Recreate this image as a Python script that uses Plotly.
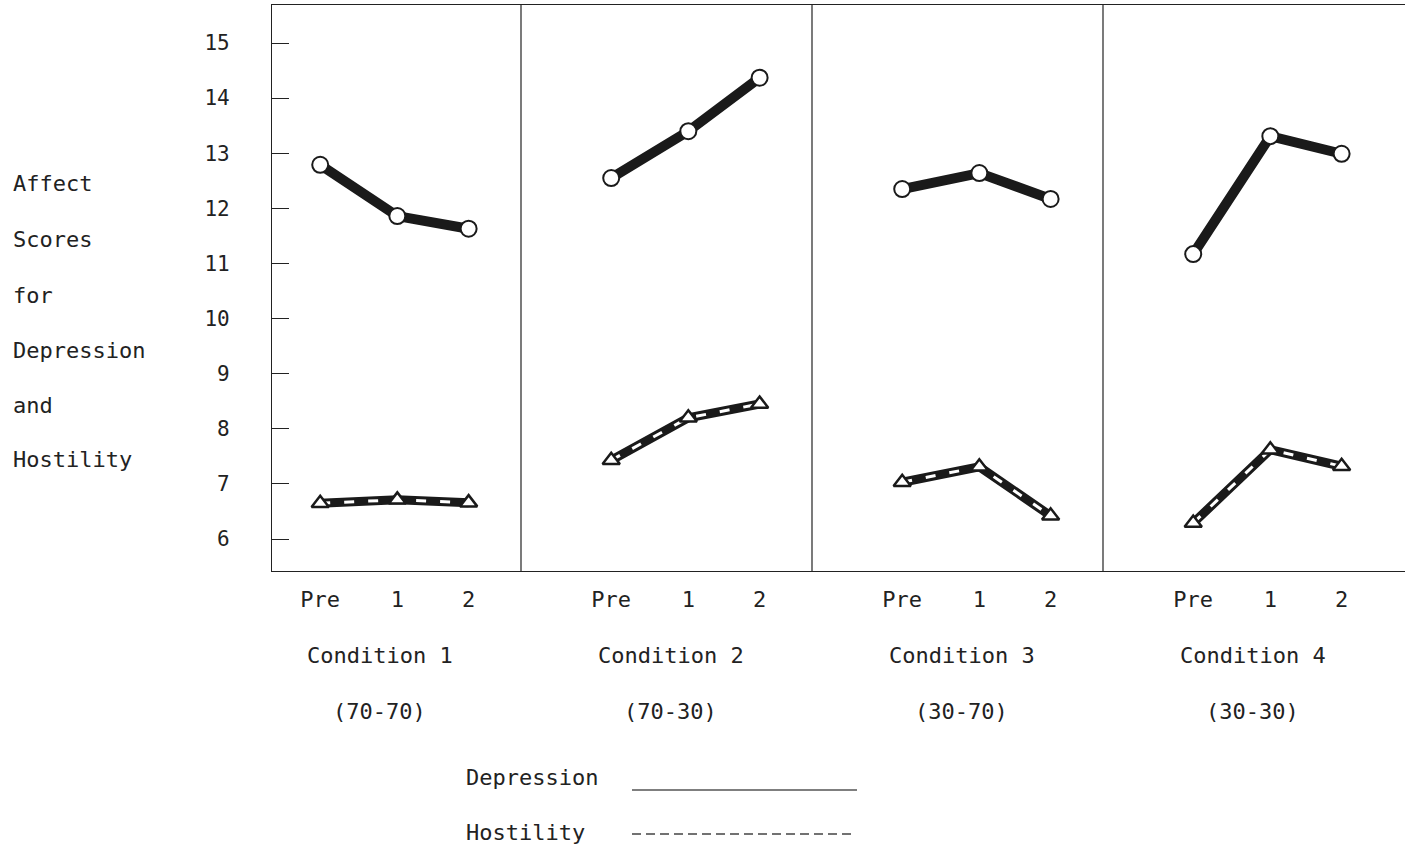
import plotly.graph_objects as go

conditions = ["Condition 1", "Condition 2", "Condition 3", "Condition 4"]
ratios = ["(70-70)", "(70-30)", "(30-70)", "(30-30)"]
times = ["Pre", "1", "2"]
depression = [
    [12.79, 11.86, 11.63],
    [12.55, 13.40, 14.37],
    [12.35, 12.64, 12.17],
    [11.17, 13.31, 12.99],
]
hostility = [
    [6.65, 6.71, 6.66],
    [7.43, 8.20, 8.45],
    [7.03, 7.31, 6.42],
    [6.29, 7.62, 7.32],
]
y_title_lines = ["Affect", "Scores", "for", "Depression", "and", "Hostility"]
y_ticks = list(range(6, 16))

FONT = "DejaVu Sans Mono"
INK = "#222222"
FS = 22
W, H = 1410, 848
L, R, T, B = 272, 5, 5, 277
PW = W - L - R
PH = H - T - B

t_pos = [0.31, 0.575, 0.82]
def xpos(k, t):
    return k + t_pos[t]

fig = go.Figure()
for k in range(len(conditions)):
    xs = [xpos(k, t) for t in range(len(times))]
    fig.add_trace(go.Scatter(x=xs, y=depression[k], mode="lines",
                             line=dict(color="#1a1a1a", width=10), showlegend=False, hoverinfo="skip"))
    fig.add_trace(go.Scatter(x=xs, y=depression[k], mode="markers",
                             marker=dict(symbol="circle", size=16, color="white",
                                         line=dict(color="#1a1a1a", width=2)),
                             showlegend=False))
    fig.add_trace(go.Scatter(x=xs, y=hostility[k], mode="lines",
                             line=dict(color="#1a1a1a", width=9), showlegend=False, hoverinfo="skip"))
    fig.add_trace(go.Scatter(x=xs, y=hostility[k], mode="lines",
                             line=dict(color="white", width=3, dash="10px,14px"),
                             showlegend=False, hoverinfo="skip"))
    fig.add_trace(go.Scatter(x=xs, y=hostility[k], mode="markers",
                             marker=dict(symbol="triangle-up", size=15, color="white",
                                         line=dict(color="#1a1a1a", width=2.5)),
                             showlegend=False))

for k in range(1, len(conditions)):
    fig.add_shape(type="line", xref="x", yref="paper", x0=k, x1=k, y0=0, y1=1,
                  line=dict(color=INK, width=1.2))

tickvals, ticktext = [], []
for k in range(len(conditions)):
    for t, lab in enumerate(times):
        tickvals.append(xpos(k, t))
        ticktext.append(lab)

def py(pix):
    return (H - B - pix) / PH
def px(pix):
    return (pix - L) / PW

for k in range(len(conditions)):
    fig.add_annotation(x=k + 0.515, y=py(655), xref="x", yref="paper", text=conditions[k],
                       showarrow=False, xanchor="center", yanchor="middle",
                       font=dict(family=FONT, size=FS, color=INK))
    fig.add_annotation(x=k + 0.515, y=py(711), xref="x", yref="paper", text=ratios[k],
                       showarrow=False, xanchor="center", yanchor="middle",
                       font=dict(family=FONT, size=FS, color=INK))

title_y = [183, 239, 295, 350, 405, 460]
for line, yy in zip(y_title_lines, title_y):
    fig.add_annotation(x=px(11), y=py(yy), xref="paper", yref="paper", text=line,
                       xanchor="left", yanchor="middle", showarrow=False,
                       font=dict(family=FONT, size=FS, color=INK))

fig.add_annotation(x=px(464), y=py(777), xref="paper", yref="paper", text="Depression",
                   xanchor="left", yanchor="middle", showarrow=False,
                   font=dict(family=FONT, size=FS, color=INK))
fig.add_annotation(x=px(464), y=py(832), xref="paper", yref="paper", text="Hostility",
                   xanchor="left", yanchor="middle", showarrow=False,
                   font=dict(family=FONT, size=FS, color=INK))
fig.add_shape(type="line", xref="paper", yref="paper", x0=px(632), x1=px(857),
              y0=py(790), y1=py(790), line=dict(color="#555555", width=1.5))
fig.add_shape(type="line", xref="paper", yref="paper", x0=px(632), x1=px(852),
              y0=py(834), y1=py(834), line=dict(color="#444444", width=1.5, dash="9px,5px"))

x_lo = (L - 230) / 291
x_hi = (W - R - 230) / 291
y_lo = 6 - (571 - 539) / 55.11
y_hi = 15 + (43 - 5) / 55.11

fig.update_layout(
    width=W, height=H,
    margin=dict(l=L, r=R, t=T, b=B),
    plot_bgcolor="white", paper_bgcolor="white",
    font=dict(family=FONT, size=FS, color=INK),
    showlegend=False,
    xaxis=dict(range=[x_lo, x_hi], tickvals=tickvals, ticktext=ticktext,
               showgrid=False, zeroline=False, showline=True, mirror=True,
               linecolor=INK, linewidth=1.2, ticks="", ticklabelstandoff=8,
               tickfont=dict(family=FONT, size=FS, color=INK)),
    yaxis=dict(range=[y_lo, y_hi], tickvals=y_ticks,
               showgrid=False, zeroline=False, showline=True, mirror=False,
               linecolor=INK, linewidth=1.2, ticks="inside", ticklen=17, tickwidth=1,
               tickcolor=INK, ticklabelstandoff=37,
               tickfont=dict(family=FONT, size=21, color=INK)),
)

fig.write_html("out.html", config={"displayModeBar": False},
               post_script="document.body.style.margin='0';")
